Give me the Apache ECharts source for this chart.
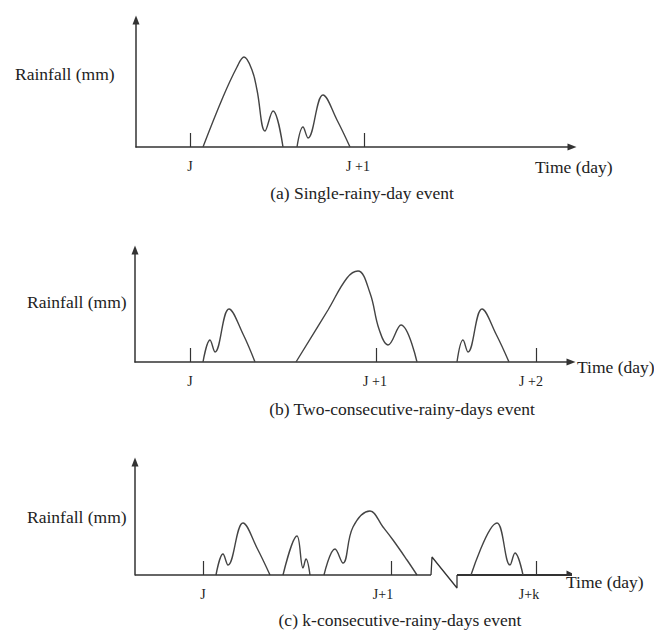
<!DOCTYPE html>
<html>
<head>
<meta charset="utf-8">
<script src="https://cdn.jsdelivr.net/npm/echarts@6/dist/echarts.min.js"></script>
<style>
html, body { margin: 0; padding: 0; background: #fff; }
#chart { width: 654px; height: 630px; }
</style>
</head>
<body>
<div id="chart"></div>
<script>
// schematic units: x = distance along the time axis, y = rainfall height
// panel (a) single rainy day
var a_bump1 = [[67, 0], [87, 50], [101, 80], [108, 90], [116, 77], [121, 57], [129, 16], [137, 36], [147, 0]];
var a_bump2 = [[161, 0], [167, 20], [172, 9], [187, 52], [201, 27], [214, 0]];
var a_ticks = [54, 228];
var a_labelPos = [54, 222];
var a_labels = ['J', 'J +1'];

// panel (b) two consecutive rainy days
var b_bump1 = [[68, 0], [75, 22], [80, 10], [94, 53], [108, 28], [120, 0]];
var b_bump2 = [[161, 0], [193, 52], [212, 84], [223, 91], [235, 69], [244, 33], [253, 17], [266, 37], [282, 0]];
var b_bump3 = [[322, 0], [328, 22], [333, 10], [347, 53], [361, 28], [374, 0]];
var b_ticks = [55, 241, 401];
var b_labelPos = [55, 240, 396];
var b_labels = ['J', 'J +1', 'J +2'];

// panel (c) k consecutive rainy days
var c_bump1 = [[81, 0], [88, 21], [93, 10], [108, 52], [122, 27], [135, 0]];
var c_bump2 = [[148, 0], [162, 39], [168, 7], [171, 16], [175, 0]];
var c_bump3 = [[189, 0], [200, 26], [208, 12], [218, 48], [235, 64], [248, 48], [258, 35], [272, 15], [282, 0]];
var c_bump4 = [[336, 0], [362, 52], [375, 10], [380, 22], [388, 0]];
var c_break = [[296, 0], [297, 18], [322, -13], [322, 0]];
var c_axisLeft = [[0, 0], [296, 0]];
var c_axisRight = [[322, 0], [436, 0]];
var c_ticks = [68, 256, 401];
var c_labelPos = [68, 248, 394];
var c_labels = ['J', 'J+1', 'J+k'];

var FONT = '"Liberation Serif", "DejaVu Serif", serif';
var INK = '#333';
var ARROW = [7, 9];

var chart = echarts.init(document.getElementById('chart'), null, {renderer: 'svg'});

function xAxisFor(idx, max, ticks, labelPos, labels, showLine) {
    return {
        type: 'value',
        gridIndex: idx,
        min: 0,
        max: max,
        splitLine: {show: false},
        axisLine: {
            show: showLine,
            symbol: ['none', 'triangle'],
            symbolSize: ARROW,
            lineStyle: {color: INK, width: 1.5}
        },
        axisTick: {
            show: true,
            inside: true,
            length: 14,
            customValues: ticks,
            lineStyle: {color: INK, width: 1.2}
        },
        axisLabel: {
            show: true,
            customValues: labelPos,
            margin: 12,
            color: '#222',
            fontFamily: FONT,
            fontSize: 14,
            formatter: function (v) {
                var i = labelPos.indexOf(v);
                return i >= 0 ? labels[i] : '';
            }
        }
    };
}

function yAxisFor(idx, max) {
    return {
        type: 'value',
        gridIndex: idx,
        min: 0,
        max: max,
        splitLine: {show: false},
        axisTick: {show: false},
        axisLabel: {show: false},
        axisLine: {
            show: true,
            symbol: ['none', 'triangle'],
            symbolSize: ARROW,
            lineStyle: {color: INK, width: 1.5}
        }
    };
}

function curve(idx, data) {
    return {
        type: 'line',
        xAxisIndex: idx,
        yAxisIndex: idx,
        data: data,
        smooth: 0.4,
        symbol: 'none',
        silent: true,
        lineStyle: {color: '#444', width: 1.4}
    };
}

function straight(idx, data, width) {
    return {
        type: 'line',
        xAxisIndex: idx,
        yAxisIndex: idx,
        data: data,
        smooth: false,
        clip: false,
        symbol: 'none',
        silent: true,
        lineStyle: {color: INK, width: width}
    };
}

function label(text, x, y, size, align) {
    return {
        type: 'text',
        x: x,
        y: y,
        silent: true,
        style: {
            text: text,
            fill: '#222',
            font: size + 'px ' + FONT,
            align: align || 'left',
            verticalAlign: 'middle'
        }
    };
}

var option = {
    backgroundColor: '#fff',
    animation: false,
    grid: [
        {left: 136, top: 20, width: 436, height: 127},
        {left: 135, top: 250, width: 436, height: 112},
        {left: 135, top: 462, width: 436, height: 113}
    ],
    xAxis: [
        xAxisFor(0, 436, a_ticks, a_labelPos, a_labels, true),
        xAxisFor(1, 436, b_ticks, b_labelPos, b_labels, true),
        xAxisFor(2, 436, c_ticks, c_labelPos, c_labels, false)
    ],
    yAxis: [
        yAxisFor(0, 127),
        yAxisFor(1, 112),
        yAxisFor(2, 113)
    ],
    series: [
        curve(0, a_bump1), curve(0, a_bump2),
        curve(1, b_bump1), curve(1, b_bump2), curve(1, b_bump3),
        curve(2, c_bump1), curve(2, c_bump2), curve(2, c_bump3), curve(2, c_bump4),
        straight(2, c_break, 1.3),
        straight(2, c_axisLeft, 1.5),
        {
            type: 'lines',
            coordinateSystem: 'cartesian2d',
            xAxisIndex: 2,
            yAxisIndex: 2,
            silent: true,
            symbol: ['none', 'triangle'],
            symbolSize: ARROW,
            lineStyle: {color: INK, width: 2, opacity: 1},
            data: [{coords: c_axisRight}]
        }
    ],
    graphic: [
        label('Rainfall (mm)', 15, 74, 17.5),
        label('Time (day)', 535, 167, 17.5),
        label('(a) Single-rainy-day event', 362, 193, 17.5, 'center'),
        label('Rainfall (mm)', 27, 302, 17.5),
        label('Time (day)', 577, 367, 17.5),
        label('(b) Two-consecutive-rainy-days event', 402, 409, 17.5, 'center'),
        label('Rainfall (mm)', 27, 517, 17.5),
        label('Time (day)', 566, 582, 17.5),
        label('(c) k-consecutive-rainy-days event', 400, 620, 17.5, 'center')
    ]
};

chart.setOption(option);
</script>
</body>
</html>
